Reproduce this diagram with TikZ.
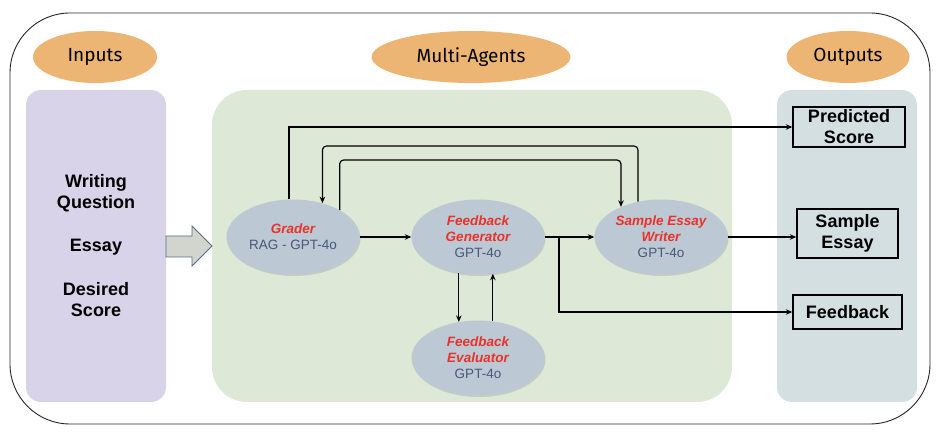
\documentclass[tikz,border=0pt]{standalone}
\usepackage{fontspec}
\setmainfont{Liberation Sans}
\newfontfamily\hfont{Fira Sans}
\usetikzlibrary{shadows,arrows.meta,shapes.geometric}
\definecolor{hdr}{HTML}{EDB574}
\definecolor{inbg}{HTML}{D8D3E8}
\definecolor{agbg}{HTML}{DDE8D6}
\definecolor{outbg}{HTML}{D3DFE1}
\definecolor{agentc}{HTML}{BCC8D4}
\definecolor{rd}{HTML}{E8332A}
\definecolor{gb}{HTML}{48577C}
\definecolor{arrfill}{HTML}{D2D4CE}
\definecolor{arredge}{HTML}{5B6B88}
\begin{document}
\begin{tikzpicture}[x=1pt,y=-1pt,
  hdrbox/.style={ellipse, fill=hdr, minimum width=124pt, minimum height=52pt, inner sep=0pt, font=\hfont\fontsize{19}{21}\selectfont},
  agentbox/.style={ellipse, fill=agentc, minimum width=133pt, minimum height=75pt, inner sep=0pt, align=center,
    drop shadow={opacity=0.25, shadow xshift=1pt, shadow yshift=-1.5pt},
    font=\fontsize{13.5}{16}\selectfont, text=gb},
  inlabel/.style={align=center, font=\bfseries\fontsize{18}{21}\selectfont},
  outbox/.style={draw, line width=1.4pt, inner sep=0pt, align=center, font=\bfseries\fontsize{18}{21}\selectfont},
  conn/.style={line width=1.2pt, -{Stealth[length=6.5pt,width=5.5pt]}},
  loopconn/.style={conn, rounded corners=4pt},
  agtext/.style={yshift=-2pt}
]
\useasboundingbox (0,0) rectangle (940,435);
% outer frame
\draw[line width=0.9pt, black!85, rounded corners=60pt] (10,13) rectangle (930,424);
% panels
\fill[inbg, rounded corners=15pt] (26,90) rectangle (166,402);
\fill[agbg, rounded corners=35pt] (212,90) rectangle (732,402);
\fill[outbg, rounded corners=15pt] (777,90) rectangle (917,402);
% headers
\node[hdrbox] (hin) at (95,57) {Inputs};
\node[hdrbox, minimum width=199pt] (hag) at (471,57) {Multi-Agents};
\node[hdrbox, minimum width=123pt] (hout) at (848,57) {Outputs};
% inputs
\node[inlabel] (wq) at (96,193) {Writing\\Question};
\node[inlabel] (es) at (96,247) {Essay};
\node[inlabel] (ds) at (96,300) {Desired\\Score};
% big arrow
\draw[fill=arrfill, draw=arredge, line width=0.8pt] (166,236) -- (192,236) -- (192,226) -- (212,246) -- (192,266) -- (192,257) -- (166,257) -- cycle;
% agents
\node[agentbox] (grader) at (293,237) {{\bfseries\itshape\color{rd}Grader}\\RAG - GPT-4o};
\node[agentbox] (fg) at (478,237) {{\bfseries\itshape\color{rd}Feedback}\\{\bfseries\itshape\color{rd}Generator}\\GPT-4o};
\node[agentbox] (writer) at (661,237) {{\bfseries\itshape\color{rd}Sample Essay}\\{\bfseries\itshape\color{rd}Writer}\\GPT-4o};
\node[agentbox] (fe) at (478,358) {{\bfseries\itshape\color{rd}Feedback}\\{\bfseries\itshape\color{rd}Evaluator}\\GPT-4o};
% outputs
\node[outbox, minimum width=112pt, minimum height=40pt] (pred) at (849,127) {Predicted\\Score};
\node[outbox, minimum width=101pt, minimum height=49pt] (sample) at (847.5,233.5) {Sample\\Essay};
\node[outbox, minimum width=109pt, minimum height=34pt] (fb) at (847.5,312) {Feedback};
% helper coordinates
\coordinate (ya) at (0,146);
\coordinate (yb) at (0,160);
\coordinate (jn) at (559,237);
% connectors
\draw[conn] (grader.96) |- (pred.west);
\draw[loopconn] (writer.123) -- (writer.123 |- ya) -- (grader.49 |- ya) -- (grader.49);
\draw[loopconn] (grader.30) -- (grader.30 |- yb) -- (writer.143 |- yb) -- (writer.143);
\draw[conn] (grader.east) -- (fg.west);
\draw[conn] (fg.east) -- (writer.west);
\draw[conn] (jn) |- (fb.west);
\draw[conn] (writer.east) -- (writer.east -| sample.west);
\draw[conn] (fg.242) -- (fe.118);
\draw[conn] (fe.68) -- (fg.292);
\end{tikzpicture}
\end{document}
